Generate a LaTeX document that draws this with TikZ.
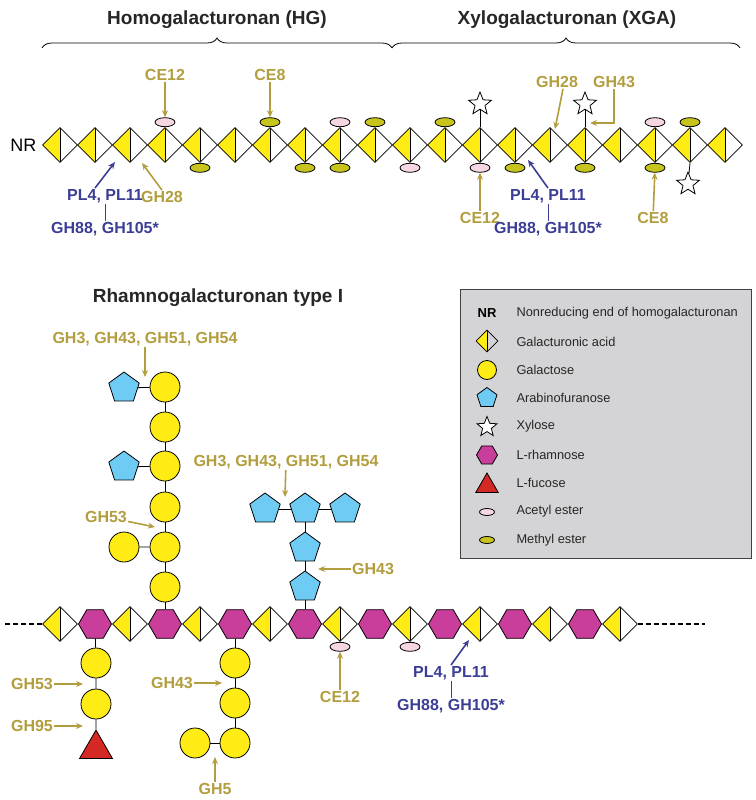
\documentclass[tikz,border=0pt]{standalone}
\usepackage{fontspec}
\setmainfont{Liberation Sans}
\usetikzlibrary{shapes.geometric,shapes.misc,arrows.meta,decorations.pathreplacing}
\definecolor{gold}{RGB}{178,158,62}
\definecolor{blu}{RGB}{60,62,150}
\definecolor{galy}{RGB}{255,236,20}
\definecolor{methyl}{RGB}{200,196,30}
\definecolor{acetyl}{RGB}{246,214,226}
\definecolor{arab}{RGB}{110,204,244}
\definecolor{rham}{RGB}{200,62,154}
\definecolor{fuc}{RGB}{212,40,36}
\definecolor{legbg}{RGB}{212,212,214}
\tikzset{
  gala/.style={diamond, draw, thick, inner sep=0, minimum width=#1, minimum height=#1,
    path picture={\fill[galy] (path picture bounding box.north) -- (path picture bounding box.west)
      -- (path picture bounding box.south) -- cycle;
      \draw[thick] (path picture bounding box.north) -- (path picture bounding box.south);}},
  gala/.default=35pt,
  gal/.style={circle, draw, thick, fill=galy, inner sep=0, minimum size=#1},
  gal/.default=30pt,
  ara/.style={regular polygon, regular polygon sides=5, draw, thick, fill=arab, inner sep=0, minimum size=#1},
  ara/.default=32pt,
  rha/.style={regular polygon, regular polygon sides=6, draw, thick, fill=rham, inner sep=0, minimum size=#1},
  rha/.default=33pt,
  fuco/.style={regular polygon, regular polygon sides=3, draw, thick, fill=fuc, inner sep=0, minimum size=#1},
  fuco/.default=38pt,
  xyl/.style={star, star points=5, star point ratio=2.3, draw, thick, fill=white, inner sep=0, minimum size=#1},
  xyl/.default=24pt,
  ace/.style={ellipse, draw, thick, fill=acetyl, inner sep=0, minimum width=20pt, minimum height=9pt},
  met/.style={ellipse, draw, thick, fill=methyl, inner sep=0, minimum width=20pt, minimum height=9pt},
  enz/.style={text=gold, font=\bfseries\fontsize{16}{18}\selectfont, inner sep=1pt},
  lya/.style={text=blu, font=\bfseries\fontsize{16}{18}\selectfont, inner sep=1pt},
  garrow/.style={-{Stealth[length=7pt,width=6pt]}, gold, line width=1.6pt},
  barrow/.style={-{Stealth[length=7pt,width=6pt]}, blu, line width=1.6pt},
  link/.style={thick},
  title/.style={font=\bfseries\fontsize{19}{22}\selectfont, text=black!85},
  legtxt/.style={anchor=west, font=\fontsize{12.8}{15}\selectfont, text=black!85},
  brc/.style={thick, decorate, decoration={brace, amplitude=10pt}},
}
\begin{document}
\begin{tikzpicture}[x=1pt, y=-1pt]
\useasboundingbox (0,0) rectangle (755,800);

% homogalacturonan and xylogalacturonan
\node[title] at (217,20) {Homogalacturonan (HG)};
\node[title] at (567,20) {Xylogalacturonan (XGA)};
\coordinate (hgl) at (42,48);
\coordinate (hgr) at (392,48);
\coordinate (xgr) at (740,48);
\draw[brc] (hgl) -- (hgr);
\draw[brc] (hgr) -- (xgr);
\node[font=\fontsize{18}{20}\selectfont, anchor=east] (nr) at (40,145) {NR};
\foreach \k in {0,...,19}
  \node[gala] (t\k) at (60+35*\k,145) {};
% esters
\foreach \k in {3,8,17} \node[ace, anchor=south] (ta\k) at (t\k.north) {};
\foreach \k in {6,9,11,18} \node[met, anchor=south] (ta\k) at (t\k.north) {};
\foreach \k in {10,12} \node[ace, anchor=north] (tb\k) at (t\k.south) {};
\foreach \k in {4,7,8,13,15,17} \node[met, anchor=north] (tb\k) at (t\k.south) {};
% xylose
\foreach \k in {12,15} {
  \node[xyl] (tx\k) at (60+35*\k,104) {};
  \draw[link] (t\k.north) -- (tx\k);
}
\node[xyl] (tx18) at (688,184) {};
\draw[link] (t18.south) -- (tx18);

\node[enz] (ce12a) at (165,75) {CE12};
\draw[garrow] (ce12a) -- (ta3);
\node[enz] (ce8a) at (270,75) {CE8};
\draw[garrow] (ce8a) -- (ta6);
\node[lya] (pla) at (105,196) {PL4, PL11};
\node[lya] (gha) at (105,229) {GH88, GH105*};
\draw[blu, thick] (pla) -- (gha);
\coordinate (pla-t) at (115,162);
\draw[barrow] (pla.north) ++(-10,0) -- (pla-t);
\node[enz] (gh28a) at (162,197) {GH28};
\coordinate (gh28a-t) at (142,163);
\draw[garrow] (gh28a.north) -- (gh28a-t);

\node[enz] (gh28b) at (557,82) {GH28};
\coordinate (gh28b-t) at (555,129);
\draw[garrow] (gh28b.south) ++(6,0) -- (gh28b-t);
\node[enz] (gh43b) at (614,82) {GH43};
\coordinate (gh43b-t) at (590,123);
\draw[garrow] (gh43b.south) |- (gh43b-t);
\node[enz] (ce12b) at (480,218) {CE12};
\draw[garrow] (ce12b) -- (tb12);
\node[enz] (ce8b) at (653,218) {CE8};
\draw[garrow] (ce8b) -- (tb17);
\node[lya] (plb) at (548,196) {PL4, PL11};
\node[lya] (ghb) at (548,229) {GH88, GH105*};
\draw[blu, thick] (plb) -- (ghb);
\coordinate (plb-t) at (528,160);
\draw[barrow] (plb.north) -- (plb-t);

% rhamnogalacturonan type I
\node[title] at (218,298) {Rhamnogalacturonan type I};
\foreach \k in {0,2,...,16}
  \node[gala] (b\k) at (60+35*\k,624) {};
\foreach \k in {1,3,...,15}
  \node[rha] (b\k) at (60+35*\k,624) {};
\coordinate (dl) at (5,624);
\coordinate (dr) at (705,624);
\draw[very thick, dash pattern=on 5pt off 3pt] (dl) -- (b0);
\draw[very thick, dash pattern=on 5pt off 3pt] (b16) -- (dr);
\foreach \k in {8,10} \node[ace, anchor=north] (bb\k) at (b\k.south) {};

% galactan side chain
\foreach \n/\y in {1/587,2/547,3/507,4/466,5/427,6/387}
  \node[gal] (g\n) at (165,\y) {};
\draw[link] (b3) -- (g1) -- (g2) -- (g3) -- (g4) -- (g5) -- (g6);
\node[gal] (g2s) at (124,547) {};
\node[ara] (g4s) at (124,467) {};
\node[ara] (g6s) at (124,388) {};
\draw[link] (g2) -- (g2s) (g4) -- (g4s) (g6) -- (g6s);
\node[enz] (gh3a) at (145,339) {GH3, GH43, GH51, GH54};
\coordinate (gh3a-t) at (145,377);
\draw[garrow] (gh3a) -- (gh3a-t);
\node[enz] (gh53a) at (106,517) {GH53};
\coordinate (gh53a-t) at (155,527);
\draw[garrow] (gh53a) -- (gh53a-t);

% arabinan side chain
\node[ara] (a1) at (305,587) {};
\node[ara] (a2) at (305,548) {};
\node[ara] (a3) at (305,509) {};
\node[ara] (a3l) at (265,509) {};
\node[ara] (a3r) at (345,509) {};
\draw[link] (b7) -- (a1) -- (a2) -- (a3) (a3l) -- (a3) -- (a3r);
\node[enz] (gh3b) at (286,462) {GH3, GH43, GH51, GH54};
\coordinate (gh3b-t) at (285,497);
\draw[garrow] (gh3b) -- (gh3b-t);
\node[enz] (gh43c) at (373,569) {GH43};
\coordinate (gh43c-t) at (318,569);
\draw[garrow] (gh43c) -- (gh43c-t);

% downward chains
\node[gal] (d1) at (96,663) {};
\node[gal] (d2) at (96,704) {};
\node[fuco] (d3) at (96,749) {};
\draw[link] (b1) -- (d1) -- (d2) -- (d3);
\node[enz] (gh53b) at (32,684) {GH53};
\coordinate (gh53b-t) at (83,684);
\draw[garrow] (gh53b) -- (gh53b-t);
\node[enz] (gh95) at (32,726) {GH95};
\coordinate (gh95-t) at (83,726);
\draw[garrow] (gh95) -- (gh95-t);

\node[gal] (e1) at (235,663) {};
\node[gal] (e2) at (235,703) {};
\node[gal] (e3) at (235,743) {};
\node[gal] (e3s) at (195,743) {};
\draw[link] (b5) -- (e1) -- (e2) -- (e3) -- (e3s);
\node[enz] (gh43d) at (172,683) {GH43};
\coordinate (gh43d-t) at (222,683);
\draw[garrow] (gh43d) -- (gh43d-t);
\node[enz] (gh5) at (215,789) {GH5};
\coordinate (gh5-t) at (215,757);
\draw[garrow] (gh5) -- (gh5-t);

\node[enz] (ce12c) at (340,697) {CE12};
\draw[garrow] (ce12c) -- (bb8);
\node[lya] (plc) at (451,673) {PL4, PL11};
\node[lya] (ghc) at (451,706) {GH88, GH105*};
\draw[blu, thick] (plc) -- (ghc);
\coordinate (plc-t) at (469,640);
\draw[barrow] (plc.north) -- (plc-t);

% legend
\draw[fill=legbg, draw=black!75, thick] (460,289) rectangle (751,558);
\node[font=\bfseries\fontsize{13}{15}\selectfont] (lk1) at (487,313) {NR};
\node[gala=22pt] (lk2) at (487,341) {};
\node[gal=19pt] (lk3) at (487,370) {};
\node[ara=21pt] (lk4) at (487,398) {};
\node[xyl=21pt] (lk5) at (487,427) {};
\node[rha=21pt] (lk6) at (487,455) {};
\node[fuco=26pt] (lk7) at (487,486) {};
\node[ace, minimum width=15pt, minimum height=7pt] (lk8) at (487,512) {};
\node[met, minimum width=15pt, minimum height=7pt] (lk9) at (487,540) {};
\foreach \i/\t in {1/Nonreducing end of homogalacturonan, 2/Galacturonic acid, 3/Galactose,
  4/Arabinofuranose, 5/Xylose, 6/L-rhamnose, 7/L-fucose, 8/Acetyl ester, 9/Methyl ester}
  \node[legtxt] at (513,285+28.3*\i) {\t};
\end{tikzpicture}
\end{document}
